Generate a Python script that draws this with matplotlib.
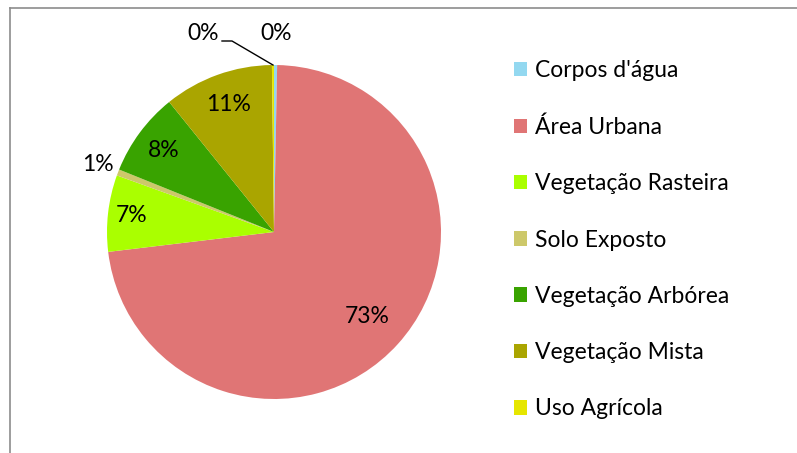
import numpy as np
import matplotlib
matplotlib.use('Agg')
from matplotlib import pyplot as plt
from matplotlib.lines import Line2D

plt.rcParams['font.family'] = ['Lato', 'DejaVu Sans']

categories = ["Corpos d'água", "Área Urbana", "Vegetação Rasteira", "Solo Exposto",
              "Vegetação Arbórea", "Vegetação Mista", "Uso Agrícola"]
values = [0.3, 72.8, 7.4, 0.6, 8.1, 10.6, 0.2]
colors = ['#93D8F0', '#E07575', '#AAFF00', '#CDC86A', '#39A300', '#AAA500', '#E6E600']

W, H = 797, 453
FS = 16.5
fig = plt.figure(figsize=(W / 100, H / 100), dpi=100)

# frame of the chart area (only left and top edges visible)
fig.add_artist(Line2D([10 / W, 10 / W], [0, 1 - 8 / H], transform=fig.transFigure, color='#8c8c8c', lw=1.2))
fig.add_artist(Line2D([10 / W, 1], [1 - 8 / H, 1 - 8 / H], transform=fig.transFigure, color='#8c8c8c', lw=1.2))

cx, cy, r = 274, 232, 167
ax = fig.add_axes([(cx - r) / W, (H - cy - r) / H, 2 * r / W, 2 * r / H])
wedges, _ = ax.pie(values, colors=colors, startangle=90, counterclock=False, radius=1)
ax.set_xlim(-1, 1)
ax.set_ylim(-1, 1)
ax.set_aspect('equal')
ax.axis('off')

total = sum(values)
# label distance per wedge (fraction of radius)
dist = [1.19, 0.75, 0.86, 1.13, 0.82, 0.81, None]
for w, v, d in zip(wedges, values, dist):
    if d is None:
        continue
    txt = '%.0f%%' % (100 * v / total)
    ang = np.deg2rad((w.theta1 + w.theta2) / 2)
    ax.text(d * np.cos(ang), d * np.sin(ang), txt, ha='center', va='center', fontsize=FS, color='black')

# Uso Agrícola label with leader line
w = wedges[-1]
ang = np.deg2rad((w.theta1 + w.theta2) / 2)
x0, y0 = np.cos(ang), np.sin(ang)
lx, ly = (203 - cx) / r, (cy - 33) / r
ax.text(lx, ly, '%.0f%%' % (100 * values[-1] / total), ha='center', va='center', fontsize=FS)
ax.plot([(222 - cx) / r, (232 - cx) / r, x0], [(cy - 41) / r, (cy - 41) / r, y0],
        color='black', lw=1, clip_on=False)

leg = fig.legend(wedges, categories, loc='upper left', bbox_to_anchor=(505 / W, 1 - 51 / H),
                 frameon=False, fontsize=FS, handlelength=0.55, handleheight=0.6,
                 handletextpad=0.35, labelspacing=1.54, borderaxespad=0)

fig.savefig('out.png', dpi=100)
